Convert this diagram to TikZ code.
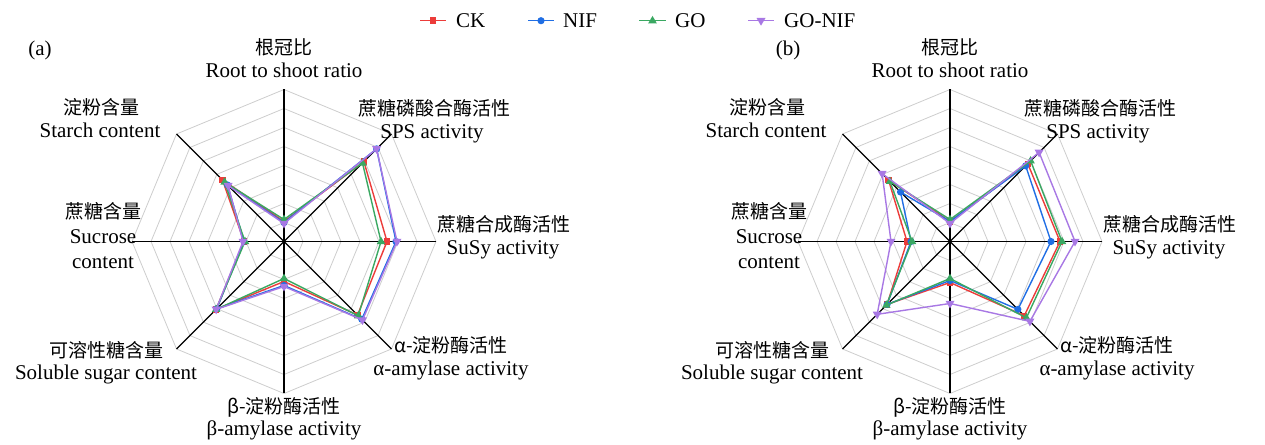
\documentclass[tikz,border=0pt]{standalone}
\usepackage{fontspec}
\setmainfont{Liberation Serif}
\newfontfamily\cjk{Noto Sans CJK SC}
\definecolor{ckc}{RGB}{236,60,58}
\definecolor{nifc}{RGB}{32,110,228}
\definecolor{goc}{RGB}{58,168,98}
\definecolor{gnc}{RGB}{168,120,228}
\definecolor{gridc}{RGB}{205,205,205}
\tikzset{
  gridline/.style={draw=gridc, line width=0.8pt},
  axisline/.style={draw=black, line width=1.3pt},
  serline/.style={line width=1.4pt},
  zh/.style={font=\fontsize{19}{22}\selectfont\cjk, anchor=mid, inner sep=0pt},
  en/.style={font=\fontsize{21}{24}\selectfont, anchor=mid, inner sep=0pt},
}
\newcommand\mkCK[1]{\fill[ckc] (#1) ++(-3.2,-3.2) rectangle ++(6.4,6.4);}
\newcommand\mkNIF[1]{\fill[nifc] (#1) circle (3.6);}
\newcommand\mkGO[1]{\fill[goc] (#1) ++(0,4.8) -- ++(-4.3,-7.4) -- ++(8.6,0) -- cycle;}
\newcommand\mkGN[1]{\fill[gnc] (#1) ++(0,-5) -- ++(-4.5,7.7) -- ++(9,0) -- cycle;}
\newcommand\series[3]{%
  \foreach \r [count=\i from 0] in {#2} {\coordinate (q\i) at ({90-45*\i}:\r);}
  \draw[serline,#1] (q0)--(q1)--(q2)--(q3)--(q4)--(q5)--(q6)--(q7)--cycle;
  \foreach \i in {0,...,7} {#3{q\i}}
}
\newcommand\radarbase{%
  \foreach \k in {1,...,8} {
    \draw[gridline] (90:19*\k) \foreach \j in {1,...,7} {-- ({90-45*\j}:19*\k)} -- cycle;
  }
  \draw[axisline] (90:152) -- (-90:152);
  \draw[axisline] (0:152) -- (180:152);
  \draw[axisline] (45:152) -- (225:152);
  \draw[axisline] (135:152) -- (-45:152);
}
\begin{document}
\begin{tikzpicture}[x=1pt,y=1pt]
\useasboundingbox (0,0) rectangle (1265,444);
% legend
\coordinate (l1a) at (420,423.3); \coordinate (l1b) at (446,423.3); \coordinate (l1m) at (433,423.3);
\draw[serline,ckc] (l1a) -- (l1b); \mkCK{l1m}
\node[en, anchor=west] (legck) at (456,423.3) {CK};
\coordinate (l2a) at (528,423.3); \coordinate (l2b) at (554,423.3); \coordinate (l2m) at (541,423.3);
\draw[serline,nifc] (l2a) -- (l2b); \mkNIF{l2m}
\node[en, anchor=west] (legnif) at (563,423.3) {NIF};
\coordinate (l3a) at (639,423.3); \coordinate (l3b) at (666,423.3); \coordinate (l3m) at (652.5,423.3);
\draw[serline,goc] (l3a) -- (l3b); \mkGO{l3m}
\node[en, anchor=west] (leggo) at (675,423.3) {GO};
\coordinate (l4a) at (748,423.3); \coordinate (l4b) at (774,423.3); \coordinate (l4m) at (761,423.3);
\draw[serline,gnc] (l4a) -- (l4b); \mkGN{l4m}
\node[en, anchor=west] (leggn) at (784,423.3) {GO-NIF};

% chart (a)
\begin{scope}[shift={(284,202.5)}]
  \radarbase
  \series{ckc}{20,113,103,104,40,96,40,87}{\mkCK}
  \series{nifc}{19,131,112,110,44,95,40,80}{\mkNIF}
  \series{goc}{22,111,97,105,37,96,39,84}{\mkGO}
  \series{gnc}{18,131,113,111,45,96,41,79}{\mkGN}
\end{scope}
\node[en] (alab) at (40,391) {(a)};
\node[zh] (a1z) at (284,392) {根冠比};
\node[en] (a1e) at (284,369) {Root to shoot ratio};
\node[zh] (a2z) at (434,331) {蔗糖磷酸合酶活性};
\node[en] (a2e) at (432,308) {SPS activity};
\node[zh] (a3z) at (504,215) {蔗糖合成酶活性};
\node[en] (a3e) at (503,192) {SuSy activity};
\node[zh] (a4z) at (451,94) {α-淀粉酶活性};
\node[en] (a4e) at (451,71) {α-amylase activity};
\node[zh] (a5z) at (284,33) {β-淀粉酶活性};
\node[en] (a5e) at (284,11) {β-amylase activity};
\node[zh] (a6z) at (106,89) {可溶性糖含量};
\node[en] (a6e) at (106,67) {Soluble sugar content};
\node[zh] (a7z) at (103,228) {蔗糖含量};
\node[en] (a7e) at (103,203) {Sucrose};
\node[en] (a7f) at (103,178) {content};
\node[zh] (a8z) at (101,332) {淀粉含量};
\node[en] (a8e) at (100,309) {Starch content};

% chart (b)
\begin{scope}[shift={(950,202.5)}]
  \radarbase
  \series{ckc}{20,110,110,105,41,89,43,87}{\mkCK}
  \series{nifc}{20,107,101,96,39,89,39,70}{\mkNIF}
  \series{goc}{22,114,112,108,37,90,38,85}{\mkGO}
  \series{gnc}{18,126,125,113,62,103,59,96}{\mkGN}
\end{scope}
\node[en] (blab) at (788,391) {(b)};
\node[zh] (b1z) at (950,392) {根冠比};
\node[en] (b1e) at (950,369) {Root to shoot ratio};
\node[zh] (b2z) at (1100,331) {蔗糖磷酸合酶活性};
\node[en] (b2e) at (1098,308) {SPS activity};
\node[zh] (b3z) at (1170,215) {蔗糖合成酶活性};
\node[en] (b3e) at (1169,192) {SuSy activity};
\node[zh] (b4z) at (1117,94) {α-淀粉酶活性};
\node[en] (b4e) at (1117,71) {α-amylase activity};
\node[zh] (b5z) at (950,33) {β-淀粉酶活性};
\node[en] (b5e) at (950,11) {β-amylase activity};
\node[zh] (b6z) at (772,89) {可溶性糖含量};
\node[en] (b6e) at (772,67) {Soluble sugar content};
\node[zh] (b7z) at (769,228) {蔗糖含量};
\node[en] (b7e) at (769,203) {Sucrose};
\node[en] (b7f) at (769,178) {content};
\node[zh] (b8z) at (767,332) {淀粉含量};
\node[en] (b8e) at (766,309) {Starch content};
\end{tikzpicture}
\end{document}
